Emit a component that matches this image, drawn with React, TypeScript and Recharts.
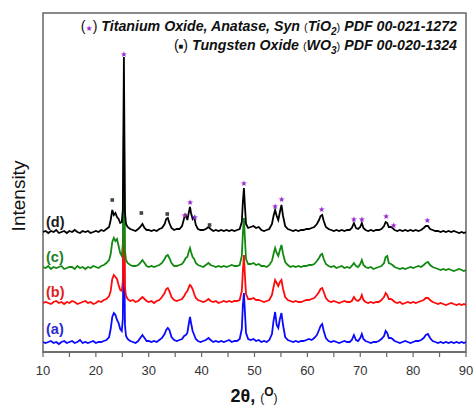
import {
  ComposedChart,
  Line,
  Scatter,
  XAxis,
  YAxis,
  ReferenceArea,
} from 'recharts';

const twoTheta = [
  10, 10.5, 11, 11.5, 12, 12.5, 13, 13.5, 14, 14.5, 15, 15.5, 16, 16.5, 17, 17.5, 18, 18.5, 19, 19.5, 20, 20.5, 21, 21.5, 22, 22.5,
  22.8, 23.1, 23.4, 23.7, 24.0, 24.3, 24.6, 24.9, 25.1, 25.3, 25.5, 25.7, 26.0,
  26.5, 27, 27.5, 28, 28.4, 28.8, 29.2, 29.6, 30, 30.5, 31, 31.5, 32, 32.5, 33, 33.3, 33.6, 33.9, 34.3, 34.8, 35.3, 35.8, 36.3,
  36.7, 37.0, 37.3, 37.6, 37.8, 38.0, 38.3, 38.6, 38.9, 39.3, 39.8, 40.3, 40.8, 41.3, 41.7, 42.2, 42.7, 43.2, 43.7, 44.2, 44.7,
  45.2, 45.7, 46.2, 46.7, 47.2, 47.6, 47.8, 48.0, 48.2, 48.4, 48.8,
  49.3, 49.8, 50.3, 50.8, 51.3, 51.8, 52.3, 52.8, 53.3, 53.6, 53.9, 54.2, 54.5, 54.8, 55.1, 55.4, 55.8, 56.3, 56.8, 57.3, 57.8,
  58.3, 58.8, 59.3, 59.8, 60.3, 60.8, 61.3, 61.8, 62.2, 62.5, 62.8, 63.1, 63.5, 64.0, 64.5, 65, 65.5, 66, 66.5, 67, 67.5,
  68.0, 68.4, 68.8, 69.2, 69.6, 70.0, 70.3, 70.6, 71.0, 71.5, 72, 72.5, 73, 73.5, 74.0, 74.5, 74.8, 75.1, 75.4, 75.8, 76.1, 76.5,
  77.0, 77.5, 78, 78.5, 79, 79.5, 80, 80.5, 81, 81.5, 82.0, 82.4, 82.8, 83.2, 83.7, 84.2, 84.7, 85.2, 85.7, 86.2, 86.7, 87.2,
  87.7, 88.2, 88.7, 89.2, 89.6, 90,
];

// intensities above each pattern's own baseline (a.u.)
const sampleA = [
  1, 0, 1, 2, 0, 1, -1, 1, 2, 0, 1, 2, 0, 1, 3, 0, 1, 0, 1, 2, 0, 1, 1, 2, 3, 6,
  14, 26, 30, 28, 23, 20, 14, 12, 24, 130, 18, 7, 4,
  2, 1, 0, 2, 5, 8, 5, 2, 2, 1, 2, 1, 3, 5, 9, 13, 15, 13, 6, 3, 2, 3, 4,
  7, 8, 10, 20, 26, 20, 12, 8, 4, 2, 1, 2, 3, 5, 3, 1, 2, 1, 2, 1,
  2, 3, 1, 2, 2, 4, 14, 38, 50, 30, 10, 4,
  3, 4, 2, 3, 1, 2, 1, 3, 9, 22, 31, 18, 15, 24, 30, 18, 6, 3, 2, 1, 2,
  1, 2, 2, 3, 4, 3, 5, 8, 13, 17, 19, 12, 5, 2, 1, 2, 1, 0, 1, 2, 1,
  1, 3, 8, 3, 2, 5, 9, 4, 2, 1, 0, 1, 1, 2, 4, 7, 12, 10, 5, 5, 4, 2,
  1, 0, 1, 2, 1, 0, 1, 2, 2, 3, 5, 8, 9, 5, 2, 1, 0, 1, 0, 1, 0, 1,
  0, 1, 0, 1, 0, 1,
];
const sampleB = [
  0, 1, 0, -1, 1, 2, 0, 1, -1, 1, 0, 2, 1, -1, 0, 1, 2, 0, 1, -1, 0, 2, 1, 3, 4, 7,
  12, 24, 28, 26, 24, 18, 13, 12, 22, 140, 16, 7, 4,
  2, 3, 1, 2, 4, 6, 4, 2, 1, 2, 0, 2, 3, 6, 10, 14, 15, 12, 6, 3, 2, 3, 4,
  7, 10, 12, 16, 18, 17, 14, 9, 5, 3, 2, 1, 2, 4, 2, 1, 2, 0, 1, 2,
  1, 2, 1, 2, 2, 3, 12, 32, 48, 26, 9, 4,
  4, 5, 3, 3, 2, 1, 2, 3, 8, 16, 23, 20, 17, 21, 23, 14, 6, 3, 2, 1, 2,
  1, 1, 2, 3, 3, 4, 5, 8, 11, 14, 15, 11, 5, 2, 1, 2, 1, 0, 1, 2, 1,
  1, 2, 6, 3, 2, 4, 8, 3, 1, 0, 1, 0, 1, 1, 3, 6, 10, 8, 4, 4, 3, 1,
  0, 1, -1, 0, 1, 0, 1, 0, 1, 2, 3, 5, 5, 3, 1, 0, -1, 0, -1, -2, -1, 0,
  -1, -2, -1, -2, -1, -2,
];
const sampleC = [
  1, 0, 2, -1, 1, 0, 1, 2, -1, 0, 1, 1, -1, 2, 0, 1, -1, 1, 0, 2, 1, 0, 2, 3, 5, 8,
  14, 26, 30, 27, 29, 22, 15, 12, 24, 150, 18, 8, 5,
  3, 2, 2, 3, 5, 8, 5, 2, 1, 2, 1, 2, 3, 5, 9, 12, 13, 10, 5, 2, 2, 3, 4,
  7, 10, 11, 17, 20, 16, 11, 9, 5, 3, 2, 1, 3, 5, 3, 2, 1, 2, 1, 2,
  1, 2, 3, 2, 2, 3, 12, 35, 50, 28, 9, 4,
  4, 5, 3, 4, 2, 2, 1, 3, 7, 14, 20, 15, 12, 18, 23, 14, 6, 3, 1, 2, 1,
  2, 1, 2, 2, 3, 3, 4, 7, 10, 13, 14, 9, 4, 2, 1, 2, 0, 1, 2, 0, 1,
  0, 2, 5, 2, 1, 4, 8, 3, 1, 0, 1, -1, 0, 1, 2, 5, 11, 12, 5, 4, 3, 1,
  0, -1, 0, -1, 0, 1, 0, 1, 2, 1, 3, 5, 6, 3, 1, 0, -1, -2, -1, -2, -1, -2,
  -3, -2, -1, -2, -3, -2,
];
const sampleD = [
  0, 1, -1, 1, 0, 2, -1, 0, 1, -1, 1, 0, 2, 0, -1, 1, 0, 1, -1, 0, 1, 0, 2, 1, 3, 5,
  12, 22, 17, 19, 15, 13, 9, 10, 22, 175, 20, 8, 5,
  3, 2, 1, 3, 5, 8, 4, 2, 2, 1, 2, 1, 3, 4, 8, 13, 14, 9, 4, 2, 3, 3, 6,
  14, 17, 12, 20, 25, 19, 13, 15, 7, 3, 2, 2, 3, 5, 3, 1, 2, 1, 2, 1,
  2, 1, 2, 1, 2, 3, 10, 30, 44, 25, 8, 4,
  5, 6, 4, 5, 2, 1, 2, 3, 8, 16, 22, 16, 12, 20, 27, 16, 6, 3, 2, 1, 2,
  1, 2, 2, 3, 3, 4, 5, 8, 12, 16, 17, 11, 5, 3, 2, 1, 2, 1, 2, 1, 2,
  2, 4, 9, 4, 3, 5, 9, 4, 2, 1, 2, 1, 2, 2, 3, 6, 10, 9, 5, 5, 4, 2,
  1, 2, 1, 2, 1, 2, 1, 2, 1, 2, 4, 6, 6, 3, 2, 1, 1, 0, 1, 0, 1, 0,
  1, 0, -1, 0, -1, 0,
];

const sampleNames = ['(a)', '(b)', '(c)', '(d)'];

// reference peak markers
const anataseTheta = [25.3, 36.8, 37.8, 38.7, 48.0, 53.9, 55.1, 62.7, 68.8, 70.3, 74.9, 76.3, 82.7];
const anataseLevel = [298, 137, 150, 135, 169, 146, 153, 143, 133, 133, 136, 127, 132];
const tungstenTheta = [23.1, 28.6, 33.5, 41.5];
const tungstenLevel = [152, 139, 138, 127];

const xTicks = [10, 15, 20, 25, 30, 35, 40, 45, 50, 55, 60, 65, 70, 75, 80, 85, 90];

const OFFSET = { a: 9, b: 49, c: 84, d: 120 };
const COLORS = { a: '#0a0aff', b: '#ff0a0a', c: '#128a12', d: '#000000' };
const LABEL_COLORS = ['#2a2ad0', '#e01c1c', '#1f7f1f', '#1a1a1a'];
const LABEL_Y = [329, 292, 257, 222];
const AXIS = '#666';
const PURPLE = '#9a2fd0';
const FONT = '"Liberation Sans", Arial, sans-serif';

const rows = twoTheta.map((t, i) => ({
  theta: t,
  a: sampleA[i] + OFFSET.a,
  b: sampleB[i] + OFFSET.b,
  c: sampleC[i] + OFFSET.c,
  d: sampleD[i] + OFFSET.d,
}));

const anataseMarks = anataseTheta.map((t, i) => ({ theta: t, y: anataseLevel[i] }));
const tungstenMarks = tungstenTheta.map((t, i) => ({ theta: t, y: tungstenLevel[i] }));

function StarShape(props: any) {
  return (
    <text
      x={props.cx}
      y={props.cy}
      textAnchor="middle"
      dominantBaseline="central"
      fontSize={8}
      fill={PURPLE}
      fontFamily="DejaVu Sans"
    >
      ★
    </text>
  );
}

function SquareShape(props: any) {
  return <rect x={props.cx - 1.8} y={props.cy - 1.8} width={3.6} height={3.6} fill="#444" />;
}

export default function App() {
  return (
    <div
      style={{
        position: 'absolute',
        left: 0,
        top: 0,
        width: 474,
        height: 407,
        background: '#fff',
        fontFamily: FONT,
      }}
    >
      <ComposedChart
        width={474}
        height={407}
        data={rows}
        margin={{ top: 13, right: 8, left: 43, bottom: 25 }}
      >
        <XAxis
          type="number"
          dataKey="theta"
          domain={[10, 90]}
          ticks={xTicks}
          tickFormatter={(v: number) => (v % 10 === 0 ? String(v) : '')}
          allowDataOverflow
          height={30}
          tickSize={5}
          tickMargin={9}
          stroke={AXIS}
          axisLine={{ stroke: AXIS, strokeWidth: 1.5 }}
          tickLine={{ stroke: AXIS, strokeWidth: 1.2 }}
          tick={{ fontFamily: FONT, fontSize: 13, fill: '#333' }}
        />
        <YAxis type="number" domain={[0, 339]} hide allowDataOverflow />
        <ReferenceArea
          x1={10}
          x2={90}
          y1={0}
          y2={339}
          fill="none"
          stroke={AXIS}
          strokeWidth={1.5}
        />
        <Line dataKey="a" stroke={COLORS.a} strokeWidth={1.8} dot={false} isAnimationActive={false} />
        <Line dataKey="b" stroke={COLORS.b} strokeWidth={1.8} dot={false} isAnimationActive={false} />
        <Line dataKey="c" stroke={COLORS.c} strokeWidth={1.8} dot={false} isAnimationActive={false} />
        <Line dataKey="d" stroke={COLORS.d} strokeWidth={1.8} dot={false} isAnimationActive={false} />
        <Scatter data={anataseMarks} dataKey="y" shape={StarShape} isAnimationActive={false} />
        <Scatter data={tungstenMarks} dataKey="y" shape={SquareShape} isAnimationActive={false} />
      </ComposedChart>

      {/* legend block, top right inside the frame */}
      <div
        style={{
          position: 'absolute',
          right: 17,
          top: 18,
          textAlign: 'right',
          fontSize: 14.2,
          lineHeight: '17px',
          fontWeight: 'bold',
          fontStyle: 'italic',
          color: '#111',
          whiteSpace: 'nowrap',
        }}
      >
        <div>
          <span style={{ fontWeight: 'normal', fontStyle: 'normal' }}>(</span>
          <span style={{ color: PURPLE, fontSize: 8, fontStyle: 'normal', fontFamily: 'DejaVu Sans' }}>★</span>
          <span style={{ fontWeight: 'normal', fontStyle: 'normal' }}>)</span> Titanium Oxide, Anatase, Syn{' '}
          <span style={{ fontWeight: 'normal', fontStyle: 'normal', fontSize: 11 }}>(</span>TiO
          <sub style={{ fontSize: 10, lineHeight: 0 }}>2</sub>
          <span style={{ fontWeight: 'normal', fontStyle: 'normal', fontSize: 11 }}>)</span> PDF 00-021-1272
        </div>
        <div>
          <span style={{ fontWeight: 'normal', fontStyle: 'normal' }}>(</span>
          <span style={{ fontSize: 5, fontStyle: 'normal', fontFamily: 'DejaVu Sans', verticalAlign: 'middle' }}>■</span>
          <span style={{ fontWeight: 'normal', fontStyle: 'normal' }}>)</span> Tungsten Oxide{' '}
          <span style={{ fontWeight: 'normal', fontStyle: 'normal', fontSize: 11 }}>(</span>WO
          <sub style={{ fontSize: 10, lineHeight: 0 }}>3</sub>
          <span style={{ fontWeight: 'normal', fontStyle: 'normal', fontSize: 11 }}>)</span> PDF 00-020-1324
        </div>
      </div>

      {sampleNames.map((name, i) => (
        <div
          key={name}
          style={{
            position: 'absolute',
            left: 46,
            top: LABEL_Y[i] - 9,
            fontSize: 14.5,
            lineHeight: '18px',
            fontWeight: 'bold',
            color: LABEL_COLORS[i],
          }}
        >
          {name}
        </div>
      ))}

      <div
        style={{
          position: 'absolute',
          left: 18.5,
          top: 196,
          transform: 'translate(-50%, -50%) rotate(-90deg)',
          fontSize: 19,
          color: '#111',
          whiteSpace: 'nowrap',
        }}
      >
        Intensity
      </div>

      <div
        style={{
          position: 'absolute',
          left: 254,
          top: 395,
          transform: 'translate(-50%, -50%)',
          whiteSpace: 'nowrap',
          color: '#111',
          lineHeight: '20px',
        }}
      >
        <span style={{ fontSize: 18, fontWeight: 'bold' }}>2θ, </span>
        <span style={{ fontSize: 12 }}>(</span>
        <sup style={{ fontSize: 12, fontWeight: 'bold' }}>O</sup>
        <span style={{ fontSize: 12 }}>)</span>
      </div>
    </div>
  );
}
